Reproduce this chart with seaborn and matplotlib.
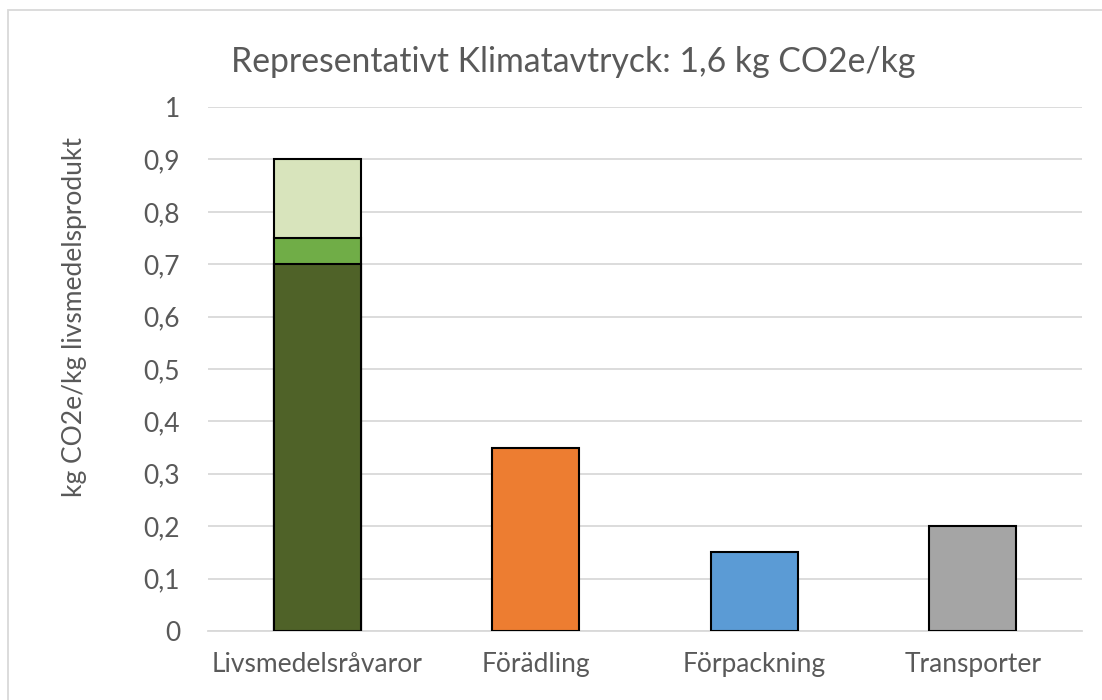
import pandas as pd
import numpy as np
import matplotlib
matplotlib.use("Agg")
import matplotlib.pyplot as plt
import seaborn as sb

# Data
categories = ["Livsmedelsråvaror", "Förädling", "Förpackning", "Transporter"]
raw_parts = [0.70, 0.05, 0.15]          # dark, mid, light green
other_values = [0.35, 0.15, 0.20]       # Förädling, Förpackning, Transporter
y_ticks = [0, 0.1, 0.2, 0.3, 0.4, 0.5, 0.6, 0.7, 0.8, 0.9, 1.0]

bar_colors = ["#D8E4BC", "#ED7D31", "#5B9BD5", "#A5A5A5"]
green_colors = ["#4F6228", "#70AD47", "#D8E4BC"]
text_gray = "#595959"

sb.set_style("white")
plt.rcParams["font.family"] = ["Lato", "DejaVu Sans"]

fig = plt.figure(figsize=(11.02, 7.0), dpi=100)
ax = fig.add_axes([0.1887, 0.0986, 0.7932, 0.7485])

# Stacked first bar: draw cumulative totals from the top down
raw_cum = np.cumsum(raw_parts)
totals = pd.DataFrame({"category": categories,
                       "value": [raw_cum[-1]] + other_values})
sb.barplot(data=totals, x="category", y="value", hue="category",
           order=categories, hue_order=categories, palette=bar_colors,
           width=0.40, edgecolor="black", linewidth=1.5, legend=False,
           saturation=1, ax=ax, zorder=3)

for level, col in zip([raw_cum[1], raw_cum[0]], [green_colors[1], green_colors[0]]):
    layer = pd.DataFrame({"category": [categories[0]], "value": [level]})
    sb.barplot(data=layer, x="category", y="value", order=categories,
               color=col, width=0.40, edgecolor="black", linewidth=1.5,
               ax=ax, zorder=3, saturation=1)

ax.set_ylim(0, 1)
ax.set_yticks(y_ticks)
ax.set_yticklabels([("%g" % t).replace(".", ",") for t in y_ticks])
ax.yaxis.grid(True, color="#D9D9D9", linewidth=1.3, zorder=0)
ax.set_axisbelow(True)
for side in ["top", "right", "left"]:
    ax.spines[side].set_visible(False)
ax.spines["bottom"].set_color("#D9D9D9")
ax.spines["bottom"].set_linewidth(1.3)
ax.tick_params(axis="y", length=0, pad=20, labelsize=19, labelcolor=text_gray)
ax.tick_params(axis="x", length=0, pad=15, labelsize=19, labelcolor=text_gray)
ax.set_xlabel("")
ax.set_ylabel("")

fig.text(0.068, 0.547, "kg CO2e/kg livsmedelsprodukt", rotation=90,
         ha="center", va="center", fontsize=19, color=text_gray)
fig.text(0.52, 0.911, "Representativt Klimatavtryck: 1,6 kg CO2e/kg",
         ha="center", va="center", fontsize=24.3, color=text_gray)

# Chart area border
fig.patches.append(plt.Rectangle((0.007, -0.01), 1.0, 0.996,
                                 transform=fig.transFigure, fill=False,
                                 edgecolor="#D9D9D9", linewidth=1.3))

plt.savefig("out.png", dpi=100)
